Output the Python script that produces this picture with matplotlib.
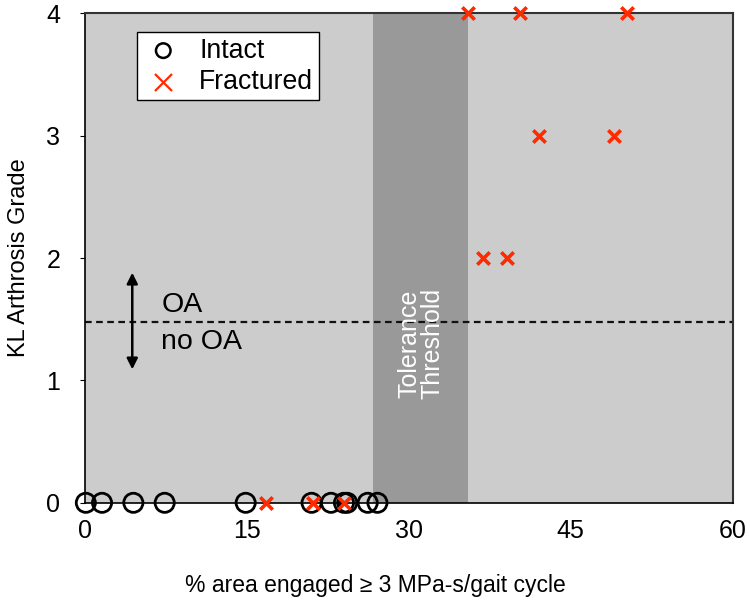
import matplotlib
matplotlib.use("Agg")
import matplotlib.pyplot as plt

plt.rcParams["font.family"] = ["Liberation Sans", "DejaVu Sans"]

# ── Data ──────────────────────────────────────────────────────────────────────
intact_x = [0.1, 1.6, 4.5, 7.4, 14.9, 21.0, 22.8, 24.0, 24.3, 26.2, 27.1]
intact_y = [0, 0, 0, 0, 0, 0, 0, 0, 0, 0, 0]

fract_x = [16.8, 21.1, 24.0, 36.9, 39.1, 42.1, 49.0, 35.5, 40.3, 50.2]
fract_y = [0, 0, 0, 2, 2, 3, 3, 4, 4, 4]

band_lo, band_hi = 26.7, 35.5
oa_cut = 1.48
x_ticks = [0, 15, 30, 45, 60]
y_ticks = [0, 1, 2, 3, 4]

# ── Plot ──────────────────────────────────────────────────────────────────────
fig = plt.figure(figsize=(7.5, 6), dpi=100)
ax = fig.add_axes([0.113, 0.162, 0.864, 0.816])
ax.set_facecolor("#cccccc")

ax.axvspan(band_lo, band_hi, color="#999999", lw=0, zorder=1)
ax.axhline(oa_cut, color="#111111", lw=1.6, ls=(0, (3, 2)), zorder=2)

ax.text((band_lo + band_hi) / 2, 1.3, "Tolerance\nThreshold", rotation=90,
        color="white", fontsize=18, ha="center", va="center", zorder=3,
        linespacing=0.95)

ax.annotate("", xy=(4.4, 1.88), xytext=(4.4, 1.09),
            arrowprops=dict(arrowstyle="<|-|>", color="black", lw=1.8,
                            mutation_scale=16, shrinkA=0, shrinkB=0), zorder=4)
ax.text(7.1, 1.62, "OA", fontsize=20.5, va="center", ha="left")
ax.text(7.1, 1.31, "no OA", fontsize=20.5, va="center", ha="left")

ax.scatter(intact_x, intact_y, s=190, facecolors="none", edgecolors="black",
           linewidths=2, clip_on=False, zorder=5, label="Intact")
ax.scatter(fract_x, fract_y, s=80, marker="x", color="#ff2a00",
           linewidths=2.6, clip_on=False, zorder=6, label="Fractured")

ax.set_xlim(0, 60)
ax.set_ylim(0, 4)
ax.set_xticks(x_ticks)
ax.set_yticks(y_ticks)
ax.tick_params(axis="x", length=0, pad=12, labelsize=18)
ax.tick_params(axis="y", length=3.5, direction="out", pad=14, labelsize=18)

ax.set_xlabel("% area engaged \u2265 3 MPa-s/gait cycle", fontsize=16.5,
              labelpad=22, x=0.448)
ax.set_ylabel("KL Arthrosis Grade", fontsize=17, labelpad=12)

for s in ["left", "bottom"]:
    ax.spines[s].set_color("black")
    ax.spines[s].set_linewidth(1.2)
for s in ["top", "right"]:
    ax.spines[s].set_color("#333333")
    ax.spines[s].set_linewidth(1.5)

leg = ax.legend(loc="upper left", bbox_to_anchor=(0.08, 0.961), fontsize=19.2,
                frameon=True, fancybox=False, edgecolor="black",
                facecolor="white", framealpha=1, handletextpad=0.55,
                borderpad=0.2, labelspacing=0.2,
                handlelength=1.6, borderaxespad=0)
leg.legend_handles[0].set_sizes([110])
leg.legend_handles[0].set_linewidths([1.8])
leg.legend_handles[1].set_sizes([150])
leg.legend_handles[1].set_linewidths([1.6])
leg.get_frame().set_linewidth(1.0)
leg.set_zorder(10)

fig.savefig("out.png", dpi=100)
